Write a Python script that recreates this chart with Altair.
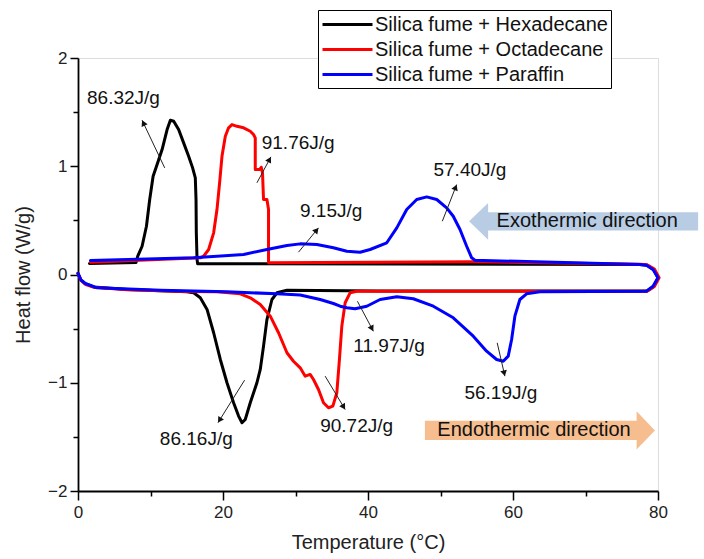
import math
import altair as alt
import pandas as pd

# ---------------- data ----------------
series_names = ["Silica fume + Hexadecane", "Silica fume + Octadecane", "Silica fume + Paraffin"]
series_colors = ["#000000", "#ff0000", "#0000ff"]

# Heating (lower, endothermic) branch incl. the turn-around near 80 °C, x increasing
hex_heat_x = [0.0, 0.4, 1.0, 2.2, 6.8, 15.0, 15.95, 16.87, 17.80, 18.71, 19.63, 20.55, 21.46, 22.15, 22.62,
              23.07, 23.76, 24.68, 25.14, 25.59, 26.06, 26.75, 27.44, 28.82, 41.4, 78.5, 79.4, 80.0, 79.4, 78.5]
hex_heat_y = [0.01, -0.05, -0.085, -0.115, -0.139, -0.160, -0.169, -0.215, -0.323, -0.538, -0.785, -1.000,
              -1.185, -1.308, -1.369, -1.339, -1.185, -1.000, -0.877, -0.662, -0.416, -0.231, -0.169, -0.145,
              -0.152, -0.152, -0.11, -0.03, 0.045, 0.085]
# Cooling (upper, exothermic) branch, x increasing
hex_cool_x = [1.58, 8.0, 8.24, 8.84, 9.44, 9.89, 10.36, 10.91, 11.60, 12.29, 12.74, 13.20, 13.88, 14.57,
              15.26, 15.81, 16.18, 16.28, 16.32, 16.42, 16.50, 44.4, 77.5]
hex_cool_y = [0.102, 0.11, 0.169, 0.261, 0.446, 0.693, 0.908, 1.016, 1.154, 1.339, 1.425, 1.416, 1.339, 1.216,
              1.092, 0.985, 0.893, 0.693, 0.385, 0.139, 0.100, 0.097, 0.092]

oct_heat_x = [0.0, 0.4, 1.0, 2.2, 6.8, 15.0, 19.17, 22.38, 23.76, 25.14, 26.52, 27.66, 28.82, 29.72, 30.65,
              31.34, 32.02, 32.48, 33.17, 33.86, 34.55, 35.15, 35.70, 36.06, 36.39, 36.85, 37.53, 38.46, 78.5,
              79.5, 80.15, 79.5, 78.5]
oct_heat_y = [0.01, -0.055, -0.09, -0.118, -0.142, -0.158, -0.160, -0.178, -0.215, -0.277, -0.385, -0.538,
              -0.723, -0.801, -0.862, -0.939, -0.923, -0.970, -1.062, -1.185, -1.231, -1.216, -1.092, -0.785,
              -0.477, -0.261, -0.169, -0.154, -0.154, -0.11, -0.03, 0.05, 0.09]
oct_cool_x = [1.72, 16.87, 17.33, 18.02, 18.71, 19.17, 19.53, 19.86, 20.32, 20.77, 21.24, 21.93, 22.84, 23.76,
              24.21, 24.45, 24.45, 25.04, 25.28, 25.45, 25.59, 26.06, 26.28, 26.28, 54.5, 77.5]
oct_cool_y = [0.114, 0.154, 0.169, 0.231, 0.385, 0.600, 0.847, 1.092, 1.277, 1.355, 1.385, 1.369, 1.355, 1.323,
              1.293, 1.262, 0.970, 0.970, 0.990, 0.939, 0.693, 0.693, 0.600, 0.108, 0.118, 0.095]

par_heat_x = [0.0, 0.4, 1.0, 2.64, 11.36, 20.55, 27.44, 30.65, 33.40, 35.23, 36.16, 37.08, 38.22, 39.83,
              41.67, 43.97, 46.25, 49.01, 51.76, 54.52, 56.36, 57.74, 58.65, 59.34, 59.81, 60.26, 60.95,
              61.87, 63.71, 78.4, 79.31, 80.0, 79.31, 78.4]
par_heat_y = [0.01, -0.05, -0.083, -0.123, -0.145, -0.160, -0.178, -0.190, -0.231, -0.268, -0.293, -0.307,
              -0.317, -0.293, -0.231, -0.206, -0.224, -0.293, -0.400, -0.570, -0.708, -0.785, -0.801, -0.754,
              -0.600, -0.385, -0.231, -0.178, -0.160, -0.154, -0.108, -0.03, 0.046, 0.085]
par_cool_x = [1.72, 15.95, 22.84, 26.06, 28.82, 30.65, 32.95, 35.23, 37.08, 38.91, 40.29, 42.59, 43.97, 45.34,
              46.72, 48.10, 49.48, 50.85, 51.76, 52.69, 53.61, 54.30, 54.75, 77.48]
par_cool_y = [0.129, 0.154, 0.185, 0.231, 0.268, 0.283, 0.277, 0.247, 0.215, 0.206, 0.231, 0.293, 0.431, 0.600,
              0.693, 0.717, 0.693, 0.616, 0.538, 0.416, 0.261, 0.154, 0.132, 0.092]

# annotations: label, text position, arrow tail, arrow head (data units)
ann_text = ["86.32J/g", "91.76J/g", "9.15J/g", "57.40J/g", "86.16J/g", "90.72J/g", "11.97J/g", "56.19J/g"]
ann_tx = [6.27, 30.37, 34.92, 54.06, 16.32, 38.43, 42.91, 58.33]
ann_ty = [1.634, 1.216, 0.584, 0.963, -1.524, -1.401, -0.662, -1.092]
arr_x1 = [11.96, 24.68, 30.41, 50.25, 22.98, 34.09, 38.54, 57.82]
arr_y1 = [0.985, 0.847, 0.206, 0.492, -0.976, -0.939, -0.247, -0.631]
arr_x2 = [8.84, 26.61, 33.17, 52.23, 19.31, 36.85, 40.74, 58.88]
arr_y2 = [1.425, 1.087, 0.431, 0.831, -1.369, -1.247, -0.524, -0.939]

dir_text = ["Exothermic direction", "Endothermic direction"]
dir_cx = [69.74, 63.71]
dir_cy = [0.491, -1.440]
dir_tx = [57.74, 49.56]

# ---------------- build tables ----------------
rows = []
for name, hx, hy, cx, cy in [
    (series_names[0], hex_heat_x, hex_heat_y, hex_cool_x, hex_cool_y),
    (series_names[1], oct_heat_x, oct_heat_y, oct_cool_x, oct_cool_y),
    (series_names[2], par_heat_x, par_heat_y, par_cool_x, par_cool_y),
]:
    xs = list(hx) + list(reversed(cx))
    ys = list(hy) + list(reversed(cy))
    for i, (a, b) in enumerate(zip(xs, ys)):
        rows.append({"series": name, "x": a, "y": b, "idx": i})
df = pd.DataFrame(rows)

W, H = 580, 433
KX, KY = W / 80.0, H / 4.0
heads = []
for x1, y1, x2, y2 in zip(arr_x1, arr_y1, arr_x2, arr_y2):
    dxp = (x2 - x1) * KX
    dyp = -(y2 - y1) * KY
    ln = math.hypot(dxp, dyp)
    ang = math.degrees(math.atan2(dxp, -dyp)) % 360
    back = 3.0
    cxp = x2 - (dxp / ln) * back / KX
    cyp = y2 + (dyp / ln) * back / KY
    heads.append({"x": cxp, "y": cyp, "angle": ang})
heads_df = pd.DataFrame(heads)

arrows_df = pd.DataFrame({"x": arr_x1, "y": arr_y1, "x2": arr_x2, "y2": arr_y2})
labels_df = pd.DataFrame({"t": ann_text, "x": ann_tx, "y": ann_ty})

FONT = "Liberation Sans"
xs_ = alt.Scale(domain=[0, 80], nice=False, zero=False)
ys_ = alt.Scale(domain=[-2, 2], nice=False, zero=False)
cs_ = alt.Scale(domain=series_names, range=series_colors)

major_x = alt.Axis(values=[0, 20, 40, 60, 80], title="Temperature (°C)", orient="bottom", grid=False,
                   tickSize=9, tickWidth=1.5, domainWidth=1.8, domainColor="black", tickColor="black",
                   labelFontSize=17, labelFont=FONT, labelColor="#222", labelPadding=4, labelFlush=False,
                   titleFontSize=20, titleFont=FONT, titleFontWeight="normal", titleColor="#222", titlePadding=12)
major_y = alt.Axis(values=[-2, -1, 0, 1, 2], title="Heat flow (W/g)", orient="left", grid=False,
                   tickSize=8, tickWidth=1.5, domainWidth=1.8, domainColor="black", tickColor="black",
                   labelFontSize=17, labelFont=FONT, labelColor="#222", labelPadding=3,
                   titleFontSize=20, titleFont=FONT, titleFontWeight="normal", titleColor="#222", titlePadding=14)
minor_x = alt.Axis(values=[10, 30, 50, 70], title=None, orient="bottom", grid=False, labels=False,
                   domain=False, tickSize=5, tickWidth=1.5, tickColor="black")
minor_y = alt.Axis(values=[-1.5, -0.5, 0.5, 1.5], title=None, orient="left", grid=False, labels=False,
                   domain=False, tickSize=5, tickWidth=1.5, tickColor="black")

legend = alt.Legend(title=None, orient="none", legendX=240, legendY=-48, strokeColor="black", fillColor="white",
                    padding=3, symbolType="M -1 0 L 4 0", symbolSize=400, symbolStrokeWidth=3,
                    labelFontSize=20, labelFont=FONT, labelColor="#111", labelOffset=31, rowPadding=3,
                    labelLimit=0)

line_layers = []
for i, name in enumerate(series_names):
    lyr = alt.Chart(df).transform_filter(alt.datum.series == name).mark_line(
        strokeWidth=3, strokeJoin="round", strokeCap="round").encode(
        x=alt.X("x:Q", scale=xs_, axis=major_x if i == 0 else None),
        y=alt.Y("y:Q", scale=ys_, axis=major_y if i == 0 else None),
        color=alt.Color("series:N", scale=cs_, legend=legend),
        order="idx:Q",
    )
    line_layers.append(lyr)

rules = alt.Chart(arrows_df).mark_rule(color="#222", strokeWidth=1).encode(
    x=alt.X("x:Q", scale=xs_, axis=minor_x), y=alt.Y("y:Q", scale=ys_, axis=minor_y), x2="x2:Q", y2="y2:Q")
points = alt.Chart(heads_df).mark_point(shape="triangle-up", filled=True, size=45, color="#111", opacity=1).encode(
    x=alt.X("x:Q", scale=xs_, axis=None), y=alt.Y("y:Q", scale=ys_, axis=None), angle=alt.Angle("angle:Q", scale=None))
texts = alt.Chart(labels_df).mark_text(font=FONT, fontSize=19, color="#111", align="center", baseline="middle").encode(
    x=alt.X("x:Q", scale=xs_, axis=None), y=alt.Y("y:Q", scale=ys_, axis=None), text="t:N")

exo_df = pd.DataFrame({"x": [dir_cx[0]], "y": [dir_cy[0]]})
endo_df = pd.DataFrame({"x": [dir_cx[1]], "y": [dir_cy[1]]})
exo = alt.Chart(exo_df).mark_point(
    shape="M -1 0 L -0.834 -0.16 L -0.834 -0.08 L 1 -0.08 L 1 0.08 L -0.834 0.08 L -0.834 0.16 Z",
    size=52441, filled=True, color="#b8cce4", opacity=1, strokeWidth=0).encode(
    x=alt.X("x:Q", scale=xs_, axis=None), y=alt.Y("y:Q", scale=ys_, axis=None))
endo = alt.Chart(endo_df).mark_point(
    shape="M 1 0 L 0.841 -0.167 L 0.841 -0.084 L -1 -0.084 L -1 0.084 L 0.841 0.084 L 0.841 0.167 Z",
    size=52900, filled=True, color="#f6bd8e", opacity=1, strokeWidth=0).encode(
    x=alt.X("x:Q", scale=xs_, axis=None), y=alt.Y("y:Q", scale=ys_, axis=None))
dir_df = pd.DataFrame({"t": dir_text, "x": dir_tx, "y": dir_cy})
dir_texts = alt.Chart(dir_df).mark_text(font=FONT, fontSize=20, color="#111", align="left", baseline="middle").encode(
    x=alt.X("x:Q", scale=xs_, axis=None), y=alt.Y("y:Q", scale=ys_, axis=None), text="t:N")

chart = alt.layer(exo, endo, dir_texts, *line_layers, rules, points, texts).resolve_axis(
    x="independent", y="independent").properties(
    width=W, height=H, padding={"left": 78, "top": 58, "right": 46, "bottom": 68},
    autosize=alt.AutoSizeParams(type="none"),
).configure_view(stroke=None).configure(font=FONT)

chart.save("out.html", embed_options={"renderer": "svg", "actions": False})
